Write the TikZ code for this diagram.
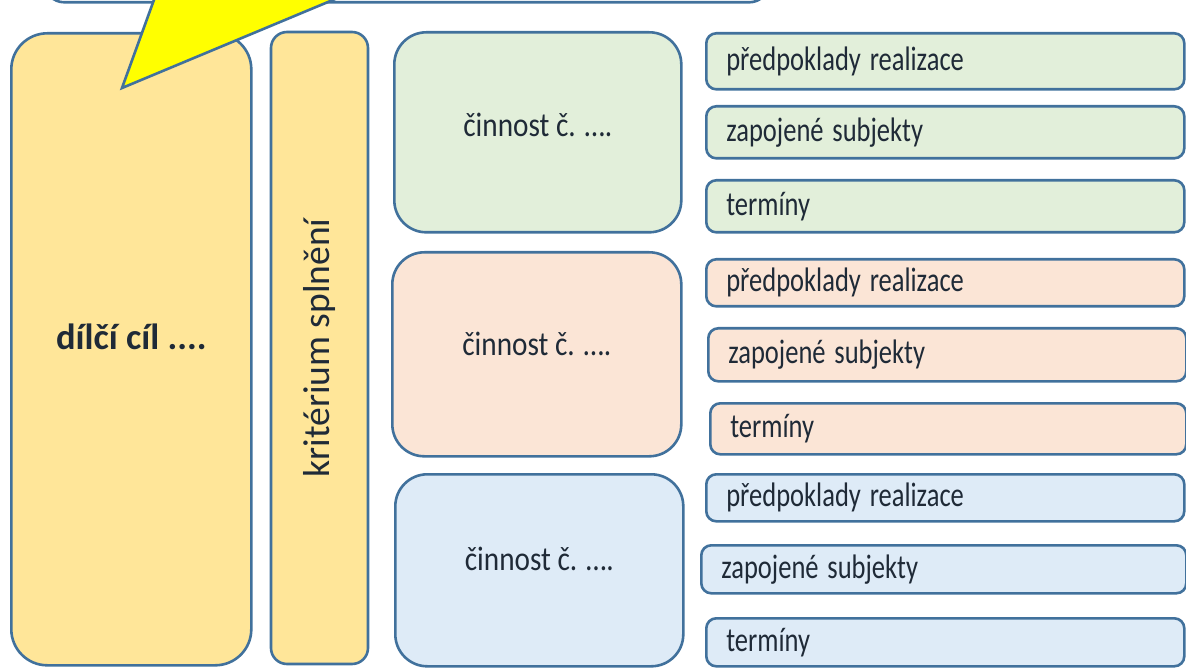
\documentclass[tikz,border=0pt]{standalone}
\usepackage{fontspec}
\usepackage{graphicx}
\setmainfont{Carlito}
\definecolor{strk}{HTML}{41719C}
\definecolor{txt}{HTML}{1F2A37}
\definecolor{goalc}{HTML}{FFE699}
\definecolor{greenc}{HTML}{E2EFDA}
\definecolor{peachc}{HTML}{FBE5D6}
\definecolor{bluec}{HTML}{DEEBF7}
\definecolor{callc}{HTML}{FFFF00}
\newcommand{\itemtxt}[1]{\scalebox{0.78}[1]{#1}}
\newcommand{\acttxt}[1]{\scalebox{0.86}[1]{#1}}
\tikzset{
  box/.style={draw=strk, line width=2.6pt, text=txt, inner sep=0pt, anchor=north west},
  goalbox/.style={box, fill=goalc, rounded corners=36pt},
  kritbox/.style={draw=strk, line width=2.6pt, text=txt, inner sep=0pt, fill=goalc,
    rounded corners=16pt, rotate=90, font=\fontsize{37.5}{42}\selectfont},
  actbox/.style={box, rounded corners=32pt},
  actlabel/.style={text=txt, font=\fontsize{34}{38}\selectfont, yshift=7pt},
  itembox/.style={box, rounded corners=10pt, align=left, inner xsep=20pt,
    font=\fontsize{34}{38}\selectfont},
  callout/.style={draw=strk, line width=2.6pt, fill=callc, line join=miter}
}
\begin{document}
\begin{tikzpicture}[x=1pt,y=-1pt]
\useasboundingbox (0,0) rectangle (1186,668);
\begin{scope}
\clip (0,0) rectangle (1186,668);
% top box (cut off)
\node[box, fill=white, rounded corners=20pt, minimum width=725pt, minimum height=80pt] (topbox) at (43,-79) {};
% main goal
\node[goalbox, minimum width=240pt, minimum height=632pt,
  label={[text=txt, font=\bfseries\fontsize{36.5}{42}\selectfont, yshift=12pt]center:dílčí cíl ....}] (goal) at (10,32) {};
% criterion
\node[kritbox, minimum width=632pt, minimum height=97pt] (krit) at (319.5,348) {kritérium splnění};
% callout wedge
\coordinate (wl) at (155,-3);
\coordinate (wr) at (340,-3);
\coordinate (tip) at (122,88);
\fill[callc] (wl) -- (tip) -- (wr) -- cycle;
\draw[callout, fill=none] (wl) -- (tip) -- (wr);
% activities
\node[actbox, fill=greenc, minimum width=287pt, minimum height=200pt,
  label={[actlabel]center:\acttxt{činnost č. ….}}] (act1) at (393,31) {};
\node[actbox, fill=peachc, minimum width=289pt, minimum height=204pt,
  label={[actlabel, yshift=3pt]center:\acttxt{činnost č. ….}}] (act2) at (391,251) {};
\node[actbox, fill=bluec, minimum width=288pt, minimum height=192pt,
  label={[actlabel, yshift=4pt]center:\acttxt{činnost č. ….}}] (act3) at (394,473) {};
% green items
\node[itembox, fill=greenc, text width=438pt, minimum height=56pt] (g1) at (705,32) {\itemtxt{předpoklady realizace}};
\node[itembox, fill=greenc, text width=438pt, minimum height=52pt] (g2) at (705,105) {\itemtxt{zapojené subjekty}};
\node[itembox, fill=greenc, text width=438pt, minimum height=52pt] (g3) at (705,179) {\itemtxt{termíny}};
% peach items
\node[itembox, fill=peachc, text width=438pt, minimum height=47pt] (o1) at (705,258) {\itemtxt{předpoklady realizace}};
\node[itembox, fill=peachc, text width=438pt, minimum height=53pt] (o2) at (707,327) {\itemtxt{zapojené subjekty}};
\node[itembox, fill=peachc, text width=436pt, minimum height=51pt] (o3) at (709,402) {\itemtxt{termíny}};
% blue items
\node[itembox, fill=bluec, text width=438pt, minimum height=47pt] (b1) at (705,473) {\itemtxt{předpoklady realizace}};
\node[itembox, fill=bluec, text width=445pt, minimum height=48pt] (b2) at (700,544) {\itemtxt{zapojené subjekty}};
\node[itembox, fill=bluec, text width=438pt, minimum height=48pt] (b3) at (705,617) {\itemtxt{termíny}};
\end{scope}
\end{tikzpicture}
\end{document}
